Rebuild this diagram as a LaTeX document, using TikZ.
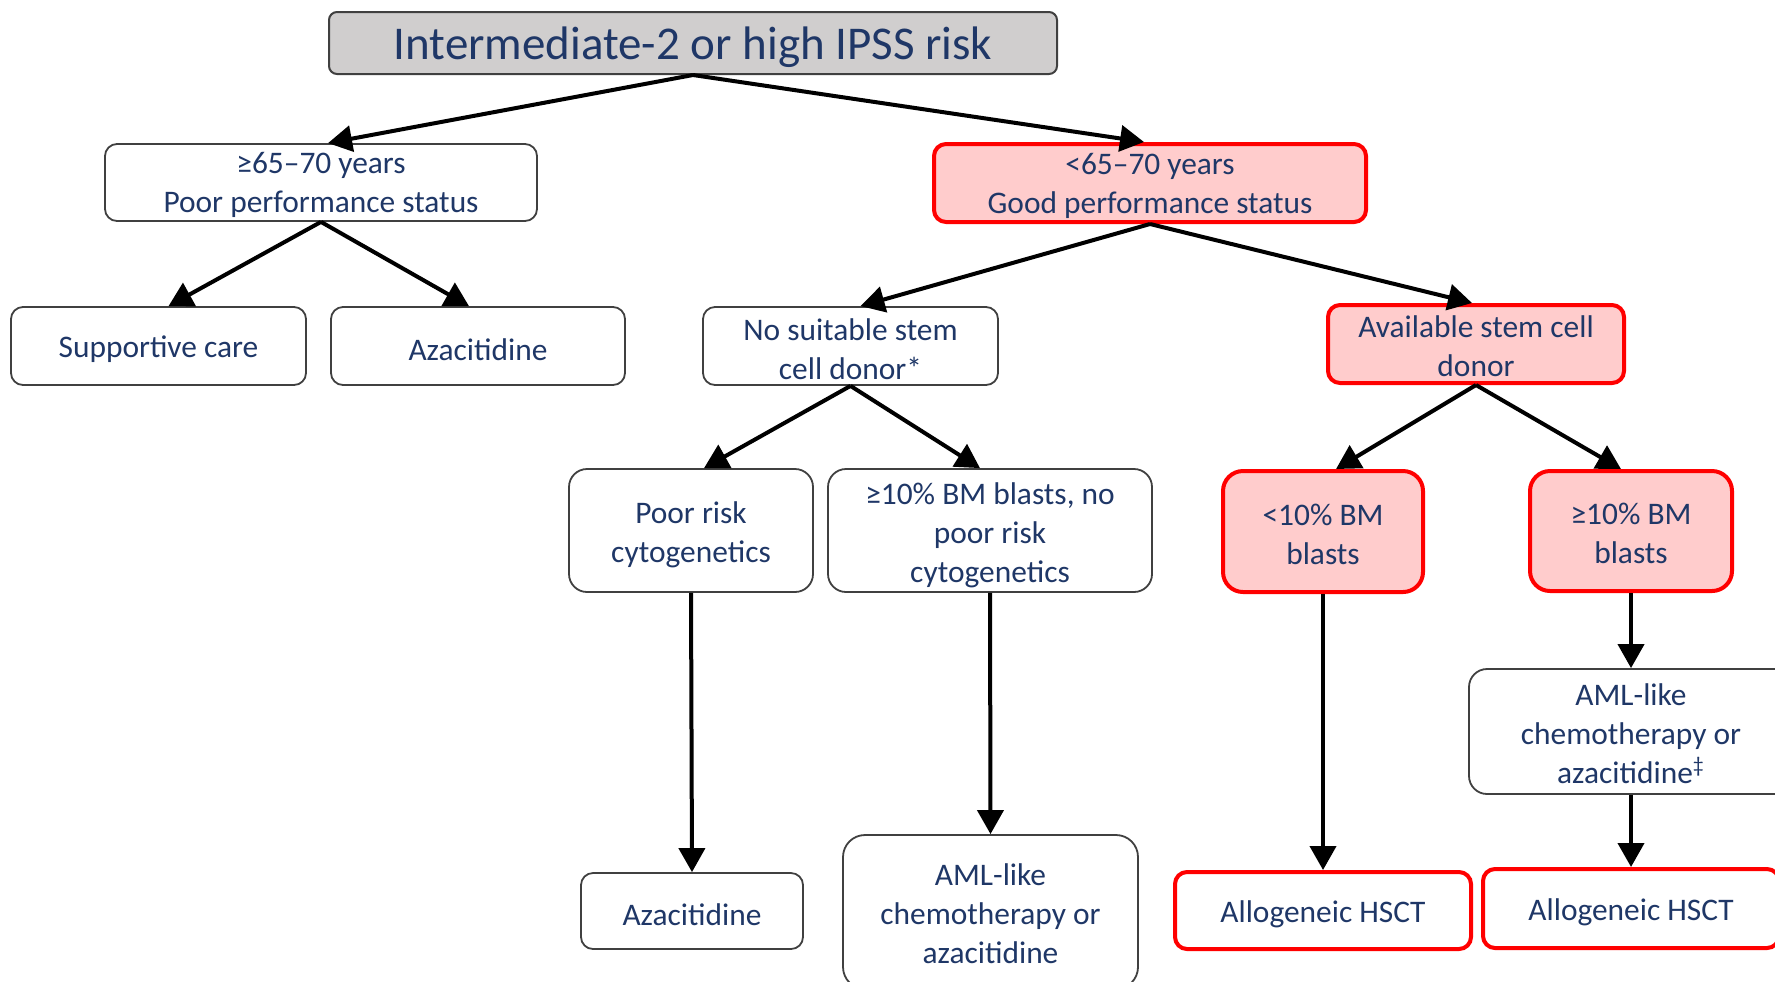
\documentclass[tikz,border=0pt]{standalone}
\usepackage{fontspec}
\setmainfont{Carlito}
\usetikzlibrary{arrows.meta}
\definecolor{navy}{HTML}{1F3767}
\definecolor{pinkfill}{HTML}{FFCCCC}
\definecolor{boxline}{HTML}{404040}
\definecolor{greyfill}{HTML}{D0CECE}
% centred multi-line text; the optional argument adds room above the first line
\newcommand{\tx}[2][0pt]{\begin{tabular}{@{}c@{}}\rule{0pt}{\dimexpr13.65pt+#1\relax}#2\end{tabular}}
\tikzset{
  base/.style={rectangle, rounded corners=6pt, inner xsep=0pt, inner ysep=-12pt,
    text=navy, font=\fontsize{15.7}{19.5}\selectfont},
  one/.style={execute at begin node={\rule{0pt}{14.2pt}}},
  plainbox/.style={base, draw=boxline, line width=0.9pt, fill=white},
  redbox/.style={base, draw=red, line width=2pt, fill=pinkfill},
  redplain/.style={base, draw=red, line width=2pt, fill=white},
  titlebox/.style={base, draw=boxline, line width=1pt, fill=greyfill,
    rounded corners=4pt, font=\fontsize{23.5}{28}\selectfont,
    execute at begin node={\rule{0pt}{20.5pt}}},
  arr/.style={line width=2pt, -{Triangle[width=13pt,length=12pt]}}
}
\begin{document}
\begin{tikzpicture}[x=0.5pt,y=-0.5pt]
\useasboundingbox (0,0) rectangle (1775,981);

% level 0
\node[titlebox, minimum width=364pt, minimum height=31pt] (top) at (693,43)
  {Intermediate-2 or high IPSS risk};

% level 1
\node[plainbox, minimum width=216pt, minimum height=38.5pt] (old) at (321,182.5)
  {\tx[2.9pt]{≥65–70 years\\Poor performance status}};
\node[redbox, minimum width=216pt, minimum height=39pt] (young) at (1150,183)
  {\tx[3.4pt]{<65–70 years\\Good performance status}};

% level 2
\node[plainbox, one, minimum width=147.5pt, minimum height=39pt] (supp) at (158.5,346)
  {Supportive care};
\node[plainbox, one, minimum width=147pt, minimum height=39pt] (aza1) at (478,346)
  {Azacitidine};
\node[plainbox, minimum width=147.5pt, minimum height=39pt] (nodonor) at (850.5,346)
  {\tx[5.7pt]{No suitable stem\\cell donor*}};
\node[redbox, minimum width=148pt, minimum height=39pt] (donor) at (1476,344)
  {\tx[5.2pt]{Available stem cell\\donor}};

% level 3
\node[plainbox, rounded corners=9pt, minimum width=122pt, minimum height=61.5pt] (poorrisk) at (691,530.5)
  {\tx[4.8pt]{Poor risk\\cytogenetics}};
\node[plainbox, rounded corners=9pt, minimum width=162pt, minimum height=61.5pt] (blastsno) at (990,530.5)
  {\tx[5.3pt]{≥10\% BM blasts, no\\poor risk\\cytogenetics}};
\node[redbox, rounded corners=10pt, minimum width=100pt, minimum height=60.5pt] (lt10) at (1323,531.5)
  {\tx[5.7pt]{<10\% BM\\blasts}};
\node[redbox, rounded corners=10pt, minimum width=101pt, minimum height=60pt] (ge10) at (1631,531)
  {\tx[4.7pt]{≥10\% BM\\blasts}};

% level 4
\node[plainbox, rounded corners=9pt, minimum width=162pt, minimum height=62.5pt] (amlR) at (1631,731.5)
  {\tx[4.8pt]{AML-like\\chemotherapy or\\azacitidine\textsuperscript{‡}}};

% level 5
\node[plainbox, one, minimum width=111pt, minimum height=38pt] (aza2) at (692,911)
  {Azacitidine};
\node[plainbox, rounded corners=11pt, minimum width=147.5pt, minimum height=77pt] (amlM) at (990.5,912)
  {\tx[4.2pt]{AML-like\\chemotherapy or\\azacitidine}};
\node[redplain, one, minimum width=148pt, minimum height=38.5pt] (allo1) at (1323,910.5)
  {Allogeneic HSCT};
\node[redplain, one, minimum width=148pt, minimum height=39.5pt] (allo2) at (1631,908.5)
  {Allogeneic HSCT};

% connectors
\draw[arr] (top.south) -- ([xshift=3.5pt]old.north);
\draw[arr] (top.south) -- ([xshift=-3pt]young.north);
\draw[arr] (old.south) -- ([xshift=5pt]supp.north);
\draw[arr] (old.south) -- ([xshift=-4.5pt]aza1.north);
\draw[arr] (young.south) -- ([xshift=5pt]nodonor.north);
\draw[arr] (young.south) -- ([xshift=-2pt]donor.north);
\draw[arr] (nodonor.south) -- ([xshift=6.5pt]poorrisk.north);
\draw[arr] (nodonor.south) -- ([xshift=-5pt]blastsno.north);
\draw[arr] (donor.south) -- ([xshift=6.5pt]lt10.north);
\draw[arr] (donor.south) -- ([xshift=-5pt]ge10.north);
\draw[arr] (poorrisk.south) -- (aza2.north);
\draw[arr] (blastsno.south) -- (amlM.north);
\draw[arr] (lt10.south) -- (allo1.north);
\draw[arr] (ge10.south) -- (amlR.north);
\draw[arr] (amlR.south) -- (allo2.north);
\end{tikzpicture}
\end{document}
